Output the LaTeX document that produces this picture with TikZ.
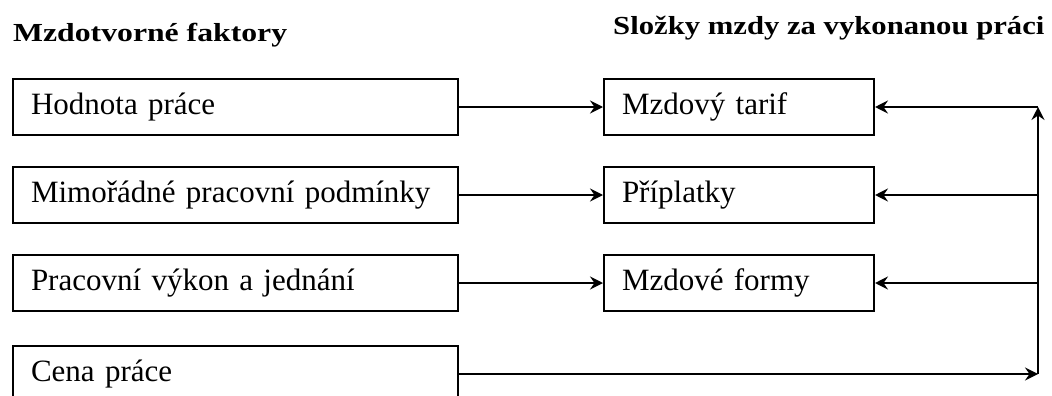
\documentclass[tikz,border=0pt]{standalone}
\usepackage{fontspec}
\setmainfont{Liberation Serif}
\usetikzlibrary{arrows.meta}
\tikzset{
  box/.style={draw, line width=2pt, rectangle, minimum height=56pt, inner xsep=18pt, inner ysep=0pt, align=left, font=\fontsize{31}{36}\selectfont, anchor=west},
  leftbox/.style={box, text width=409pt},
  midbox/.style={box, text width=234pt},
  arr/.style={line width=2pt, -{Stealth[length=13pt,width=13pt,inset=4.5pt]}},
  ttl/.style={anchor=base west, inner sep=0pt, font=\bfseries\fontsize{26}{30}\selectfont}
}
\begin{document}
\begin{tikzpicture}[x=1pt,y=-1pt]
\useasboundingbox (0,0) rectangle (1052,396);
\clip (0,0) rectangle (1052,396);
\node[ttl] (t1) at (13,42) {\scalebox{1.22}[1]{Mzdotvorné faktory}};
\node[ttl] (t2) at (613,35) {\scalebox{1.18}[1]{Složky mzdy za vykonanou práci}};
\node[leftbox] (l1) at (12,107) {Hodnota práce};
\node[leftbox] (l2) at (12,195) {Mimořádné pracovní podmínky};
\node[leftbox] (l3) at (12,283) {Pracovní výkon a jednání};
\node[leftbox] (l4) at (12,374) {Cena práce};
\node[midbox] (m1) at (603,107) {Mzdový tarif};
\node[midbox] (m2) at (603,195) {Příplatky};
\node[midbox] (m3) at (603,283) {Mzdové formy};
\coordinate (jb) at (1038,374);
\coordinate (jt) at (1038,107);
\draw[arr] (l1.east) -- (m1.west);
\draw[arr] (l2.east) -- (m2.west);
\draw[arr] (l3.east) -- (m3.west);
\draw[arr] (l4.east) -- (jb);
\draw[arr] (jb) -- (jt);
\draw[arr] (jt) -- (m1.east);
\draw[arr] (jt |- m2.east) -- (m2.east);
\draw[arr] (jt |- m3.east) -- (m3.east);
\end{tikzpicture}
\end{document}
